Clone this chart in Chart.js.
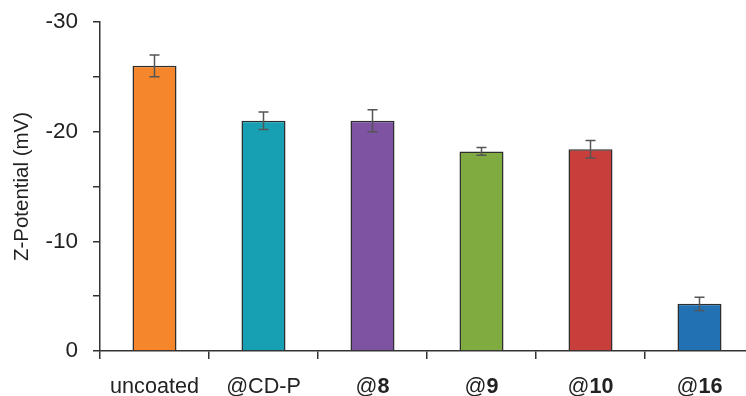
<!DOCTYPE html>
<html>
<head>
<meta charset="utf-8">
<title>Z-Potential</title>
<script src="https://cdn.jsdelivr.net/npm/chart.js@4/dist/chart.umd.min.js"></script>
<style>
  html, body { margin: 0; padding: 0; background: #ffffff; overflow: hidden; }
  #wrap { width: 756px; height: 396px; }
</style>
</head>
<body>
<div id="wrap"><canvas id="chart" width="756" height="396"></canvas></div>
<script>
// Samples and measured zeta potentials (mV) with their standard deviations
const categories = ['uncoated', '@CD-P', '@8', '@9', '@10', '@16'];
const zeta = [-26.0, -21.0, -21.0, -18.2, -18.4, -4.3];
const zetaErr = [1.0, 0.8, 1.0, 0.35, 0.8, 0.6];
const barColors = ['#F5862B', '#17A0B3', '#7E53A1', '#7FAB41', '#C73E3A', '#2271B3'];
const yMajorTicks = [-30, -20, -10, 0];

const FONT = '"Liberation Sans", Arial, Helvetica, sans-serif';
const INK = '#222222';

// Vertical error bars with caps, centred on each bar top
const errorBars = {
  id: 'errorBars',
  afterDatasetsDraw(chart) {
    const meta = chart.getDatasetMeta(0);
    const y = chart.scales.y;
    const ctx = chart.ctx;
    ctx.save();
    ctx.strokeStyle = '#555555';
    ctx.lineWidth = 1.5;
    meta.data.forEach((bar, i) => {
      const v = zeta[i], e = zetaErr[i];
      const y1 = y.getPixelForValue(v - e);
      const y2 = y.getPixelForValue(v + e);
      const x = bar.x;
      ctx.beginPath();
      ctx.moveTo(x, y1); ctx.lineTo(x, y2);
      ctx.moveTo(x - 5, y1); ctx.lineTo(x + 5, y1);
      ctx.moveTo(x - 5, y2); ctx.lineTo(x + 5, y2);
      ctx.stroke();
    });
    ctx.restore();
  }
};

// Category labels: compound numbers after "@" are set in bold
const categoryLabels = {
  id: 'categoryLabels',
  afterDraw(chart) {
    const xs = chart.scales.x;
    const ctx = chart.ctx;
    const regular = '21.6px ' + FONT;
    const bold = 'bold 21.6px ' + FONT;
    const baseline = xs.top + 42;
    ctx.save();
    ctx.fillStyle = INK;
    ctx.textBaseline = 'alphabetic';
    ctx.textAlign = 'left';
    categories.forEach((label, i) => {
      const m = /^(@)(\d+)$/.exec(label);
      const parts = m ? [[m[1], regular], [m[2], bold]] : [[label, regular]];
      let total = 0;
      parts.forEach(p => { ctx.font = p[1]; total += ctx.measureText(p[0]).width; });
      let x = xs.getPixelForValue(i) - total / 2;
      parts.forEach(p => {
        ctx.font = p[1];
        ctx.fillText(p[0], x, baseline);
        x += ctx.measureText(p[0]).width;
      });
    });
    ctx.restore();
  }
};

new Chart(document.getElementById('chart'), {
  type: 'bar',
  data: {
    labels: categories,
    datasets: [{
      data: zeta,
      backgroundColor: barColors,
      borderColor: '#2e2e2e',
      borderWidth: 1.5,
      borderSkipped: 'start',
      barPercentage: 0.404,
      categoryPercentage: 1.0
    }]
  },
  options: {
    responsive: false,
    animation: false,
    events: [],
    layout: { padding: { top: 22, right: 2, left: 0, bottom: 0 } },
    plugins: { legend: { display: false }, tooltip: { enabled: false } },
    scales: {
      x: {
        offset: true,
        grid: { display: true, offset: true, drawOnChartArea: false, tickLength: 8, color: '#333333', lineWidth: 1.5 },
        border: { display: true, color: '#333333', width: 1.5 },
        ticks: { display: false },
        afterFit(s) { s.height = 45; }
      },
      y: {
        reverse: true,
        min: -30,
        max: 0,
        grid: { display: true, drawOnChartArea: false, tickLength: 7, color: '#333333', lineWidth: 1.5 },
        border: { display: true, color: '#333333', width: 1.5 },
        ticks: {
          stepSize: 5,
          padding: 15,
          color: INK,
          font: { family: FONT, size: 22.5 },
          callback: v => (yMajorTicks.includes(v) ? String(v) : '')
        },
        title: {
          display: true,
          text: 'Z-Potential (mV)',
          color: INK,
          font: { family: FONT, size: 20.5 },
          padding: { top: 10, bottom: 0 }
        },
        afterFit(s) {
          s.width = 100;
          s.paddingTop = 0;
          s.paddingBottom = 0;
        }
      }
    }
  },
  plugins: [errorBars, categoryLabels]
});
</script>
</body>
</html>
